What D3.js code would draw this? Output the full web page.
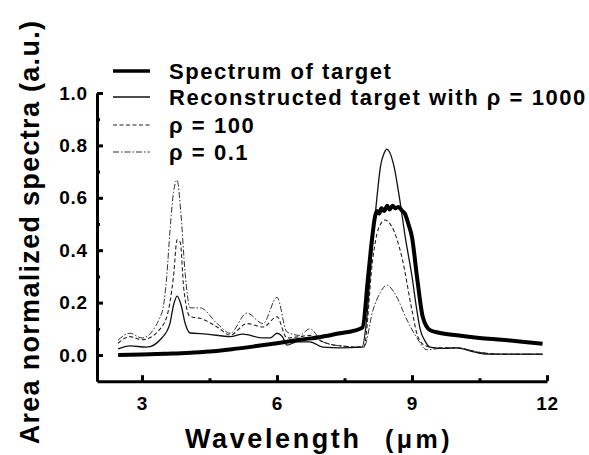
<!DOCTYPE html>
<html><head><meta charset="utf-8">
<script src="https://cdn.jsdelivr.net/npm/d3@7"></script>
<style>
html,body{margin:0;padding:0;background:#fff;}
text{font-family:"Liberation Sans",Arial,sans-serif;font-weight:bold;fill:#000;}
</style></head><body>
<svg id="c" width="589" height="455"></svg>
<script>
// ---- data ----
const xTicks = [3, 6, 9, 12];
const xMinorTicks = [4.5, 7.5, 10.5];
const yTicks = [0.0, 0.2, 0.4, 0.6, 0.8, 1.0];
const yMinorTicks = [0.1, 0.3, 0.5, 0.7, 0.9];

const targetX = [2.47, 3.0, 3.5, 4.0, 4.5, 5.0, 5.5, 6.0, 6.5, 7.0, 7.4, 7.7, 7.9, 8.02, 8.11, 8.18, 8.22, 8.27, 8.32, 8.38, 8.45, 8.5, 8.57, 8.63, 8.7, 8.78, 8.84, 8.92, 9.0, 9.11, 9.24, 9.4, 9.6, 10.0, 10.5, 11.0, 11.5, 11.9];
const targetY = [0.0, 0.002, 0.005, 0.008, 0.013, 0.022, 0.033, 0.045, 0.058, 0.07, 0.083, 0.092, 0.105, 0.29, 0.44, 0.53, 0.55, 0.54, 0.56, 0.55, 0.57, 0.555, 0.57, 0.56, 0.565, 0.55, 0.54, 0.5, 0.45, 0.3, 0.145, 0.095, 0.085, 0.075, 0.065, 0.058, 0.05, 0.043];

const rho1000X = [2.47, 2.73, 3.1, 3.44, 3.62, 3.7, 3.78, 3.87, 3.96, 4.07, 4.44, 4.96, 5.24, 5.69, 5.85, 6.0, 6.12, 6.22, 6.44, 6.73, 7.02, 7.4, 7.89, 8.0, 8.1, 8.22, 8.3, 8.38, 8.44, 8.5, 8.6, 8.73, 8.85, 9.0, 9.1, 9.18, 9.3, 9.4, 9.7, 10.0, 10.3, 10.67, 11.0, 11.5, 11.9];
const rho1000Y = [0.023, 0.035, 0.03, 0.065, 0.12, 0.19, 0.225, 0.19, 0.12, 0.084, 0.08, 0.07, 0.08, 0.065, 0.065, 0.083, 0.07, 0.038, 0.05, 0.05, 0.03, 0.027, 0.03, 0.15, 0.38, 0.6, 0.72, 0.77, 0.786, 0.775, 0.72, 0.59, 0.45, 0.3, 0.18, 0.1, 0.05, 0.03, 0.025, 0.027, 0.015, 0.003, 0.003, 0.003, 0.003];

const rho100X = [2.47, 2.73, 3.0, 3.44, 3.62, 3.7, 3.78, 3.85, 3.93, 4.07, 4.29, 4.67, 4.96, 5.33, 5.69, 6.0, 6.22, 6.5, 6.73, 7.02, 7.4, 7.93, 8.13, 8.25, 8.4, 8.55, 8.78, 9.0, 9.13, 9.3, 9.5, 10.0, 10.5, 11.0, 11.9];
const rho100Y = [0.045, 0.07, 0.058, 0.107, 0.2, 0.3, 0.44, 0.43, 0.25, 0.146, 0.14, 0.107, 0.076, 0.12, 0.107, 0.146, 0.065, 0.07, 0.075, 0.05, 0.035, 0.03, 0.37, 0.48, 0.515, 0.49, 0.37, 0.17, 0.07, 0.035, 0.028, 0.027, 0.01, 0.003, 0.003];

const rho01X = [2.47, 2.73, 3.0, 3.44, 3.55, 3.62, 3.7, 3.78, 3.86, 3.96, 4.07, 4.29, 4.67, 4.96, 5.33, 5.69, 6.0, 6.22, 6.5, 6.73, 7.02, 7.4, 7.93, 8.13, 8.3, 8.44, 8.6, 8.9, 9.11, 9.33, 9.6, 10.0, 10.5, 11.0, 11.9];
const rho01Y = [0.057, 0.083, 0.065, 0.16, 0.3, 0.47, 0.62, 0.668, 0.55, 0.31, 0.18, 0.18, 0.12, 0.083, 0.16, 0.12, 0.22, 0.088, 0.075, 0.1, 0.05, 0.035, 0.03, 0.17, 0.24, 0.267, 0.24, 0.13, 0.065, 0.02, 0.025, 0.027, 0.01, 0.003, 0.003];

const seriesNames = ["Spectrum of target", "Reconstructed target with \u03C1 = 1000", "\u03C1 = 100", "\u03C1 = 0.1"];

// ---- chart ----
const svg = d3.select("#c");
const x = d3.scaleLinear().domain([2, 12]).range([97, 547]);
const y = d3.scaleLinear().domain([-0.1, 1.0]).range([381.2, 93]);

const series = [
  {name: seriesNames[0], xs: targetX, ys: targetY, w: 4, dash: null, color: "#000"},
  {name: seriesNames[1], xs: rho1000X, ys: rho1000Y, w: 1.3, dash: null, color: "#111"},
  {name: seriesNames[2], xs: rho100X, ys: rho100Y, w: 1.1, dash: "4,2.5", color: "#222"},
  {name: seriesNames[3], xs: rho01X, ys: rho01Y, w: 1.0, dash: "6,2,1.5,2", color: "#333"}
];

const line = d3.line().x(d => x(d[0])).y(d => y(d[1])).curve(d3.curveMonotoneX);
[3, 2, 1, 0].forEach(i => {
  const s = series[i];
  svg.append("path")
    .datum(s.xs.map((v, k) => [v, s.ys[k]]))
    .attr("d", line)
    .attr("fill", "none")
    .attr("stroke", s.color)
    .attr("stroke-width", s.w)
    .attr("stroke-linejoin", "round")
    .attr("stroke-dasharray", s.dash);
});

// axes
svg.append("g").attr("transform", `translate(0,${y(-0.1)})`)
  .call(d3.axisBottom(x).tickValues(xTicks).tickSizeInner(-6).tickSizeOuter(0).tickPadding(15).tickFormat(d3.format("d")));
svg.append("g").attr("transform", `translate(0,${y(-0.1)})`)
  .call(d3.axisBottom(x).tickValues(xMinorTicks).tickSizeInner(-3).tickSizeOuter(0).tickFormat(""))
  .select(".domain").remove();
svg.append("g").attr("transform", `translate(${x(2)},0)`)
  .call(d3.axisLeft(y).tickValues(yTicks).tickSizeInner(-6).tickSizeOuter(0).tickPadding(9).tickFormat(d3.format(".1f")));
svg.append("g").attr("transform", `translate(${x(2)},0)`)
  .call(d3.axisLeft(y).tickValues(yMinorTicks).tickSizeInner(-3).tickSizeOuter(0).tickFormat(""))
  .select(".domain").remove();

svg.selectAll(".domain").attr("stroke", "#000").attr("stroke-width", 3);
svg.selectAll(".tick line").attr("stroke", "#000").attr("stroke-width", 3);
svg.selectAll(".tick text").style("font-size", "19px").style("font-weight", "bold")
  .style("letter-spacing", "0.8px")
  .style("font-family", "'Liberation Sans',Arial,sans-serif").attr("fill", "#000");

// axis titles
svg.append("text").attr("x", 185).attr("y", 448).style("font-size", "27px")
  .style("letter-spacing", "2.6px").text("Wavelength");
svg.append("text").attr("x", 385).attr("y", 448).style("font-size", "25px")
  .style("letter-spacing", "3.5px").text("(\u03BCm)");

svg.append("text")
  .attr("transform", "translate(39,232) rotate(-90)")
  .attr("text-anchor", "middle")
  .style("font-size", "27px")
  .style("letter-spacing", "1.3px")
  .text("Area normalized spectra (a.u.)");

// legend
const legY = [71, 97, 125, 152];
series.forEach((s, i) => {
  svg.append("line").attr("x1", 113).attr("x2", 150).attr("y1", legY[i]).attr("y2", legY[i])
    .attr("stroke", s.color).attr("stroke-width", i === 0 ? 3.5 : s.w)
    .attr("stroke-dasharray", s.dash);
  svg.append("text").attr("x", 169).attr("y", legY[i] + 8).style("font-size", "22px")
    .style("letter-spacing", "1.55px").text(s.name);
});
</script>
</body></html>
